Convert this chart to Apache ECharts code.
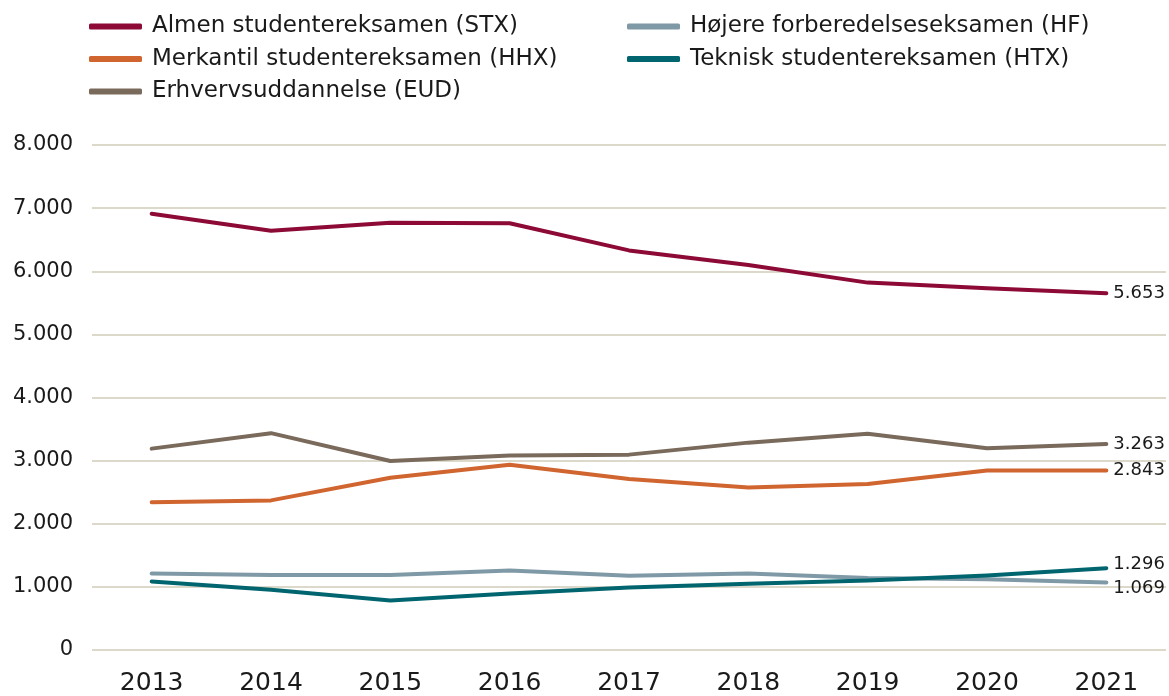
<!DOCTYPE html>
<html>
<head>
<meta charset="utf-8">
<script src="https://cdn.jsdelivr.net/npm/echarts@6/dist/echarts.min.js"></script>
<style>
  html, body { margin: 0; padding: 0; background: #fff; }
  #holder { width: 1169px; height: 696px; }
</style>
</head>
<body>
<div id="holder"></div>
<script>
var years = ['2013', '2014', '2015', '2016', '2017', '2018', '2019', '2020', '2021']

var stx = [6910, 6640, 6770, 6760, 6330, 6100, 5820, 5730, 5653]
var hf = [1210, 1190, 1190, 1260, 1175, 1210, 1140, 1120, 1069]
var hhx = [2340, 2370, 2730, 2935, 2710, 2575, 2630, 2845, 2843]
var htx = [1085, 955, 785, 895, 990, 1050, 1100, 1180, 1296]
var eud = [3190, 3435, 2995, 3080, 3095, 3285, 3425, 3195, 3263]

var names = {
  stx: 'Almen studentereksamen (STX)',
  hf: 'Højere forberedelseseksamen (HF)',
  hhx: 'Merkantil studentereksamen (HHX)',
  htx: 'Teknisk studentereksamen (HTX)',
  eud: 'Erhvervsuddannelse (EUD)'
}

var yTicks = [0, 1000, 2000, 3000, 4000, 5000, 6000, 7000, 8000]

var font = '"DejaVu Sans", sans-serif'

function fmt(v) {
  // dansk tusindtalsseparator
  return String(Math.round(v)).replace(/\B(?=(\d{3})+(?!\d))/g, '.')
}

function mkSeries(name, data, color, off) {
  return {
    name: name,
    type: 'line',
    data: data,
    symbol: 'none',
    lineStyle: { color: color, width: 4, cap: 'round', join: 'round' },
    itemStyle: { color: color },
    endLabel: {
      show: true,
      formatter: function (p) { return fmt(p.value) },
      color: '#1a1a1a',
      fontFamily: font,
      fontSize: 18,
      distance: 7,
      offset: off || [0, 0]
    }
  }
}

var myChart = echarts.init(document.getElementById('holder'))

var legendBase = {
  orient: 'vertical',
  top: 15,
  itemGap: 9.5,
  itemWidth: 53,
  itemHeight: 6,
  icon: 'roundRect',
  padding: 0,
  textStyle: { fontFamily: font, fontSize: 23, color: '#1a1a1a', padding: [0, 0, 0, 5] }
}

var option = {
  animation: false,
  backgroundColor: '#fff',
  legend: [
    Object.assign({}, legendBase, { left: 89, data: [names.stx, names.hhx, names.eud] }),
    Object.assign({}, legendBase, { left: 627, data: [names.hf, names.htx] })
  ],
  grid: { left: 92, right: 3, top: 145, bottom: 43.5, containLabel: false },
  xAxis: {
    type: 'category',
    data: years,
    boundaryGap: true,
    axisLine: { show: false },
    axisTick: { show: false },
    axisLabel: { fontFamily: font, fontSize: 25, color: '#1a1a1a', margin: 21 }
  },
  yAxis: {
    type: 'value',
    min: yTicks[0],
    max: yTicks[yTicks.length - 1],
    interval: 1000,
    axisLine: { show: false },
    axisTick: { show: false },
    splitLine: { lineStyle: { color: '#dcd9cb', width: 2 } },
    axisLabel: {
      fontFamily: font, fontSize: 21, color: '#1a1a1a', margin: 19,
      formatter: function (v) { return fmt(v) }
    }
  },
  series: [
    mkSeries(names.stx, stx, '#8c0a35'),
    mkSeries(names.hf, hf, '#7f9aa6', [0, 6]),
    mkSeries(names.hhx, hhx, '#d06530'),
    mkSeries(names.htx, htx, '#00656e', [0, -4]),
    mkSeries(names.eud, eud, '#7a6a5c')
  ]
}

myChart.setOption(option)
</script>
</body>
</html>
